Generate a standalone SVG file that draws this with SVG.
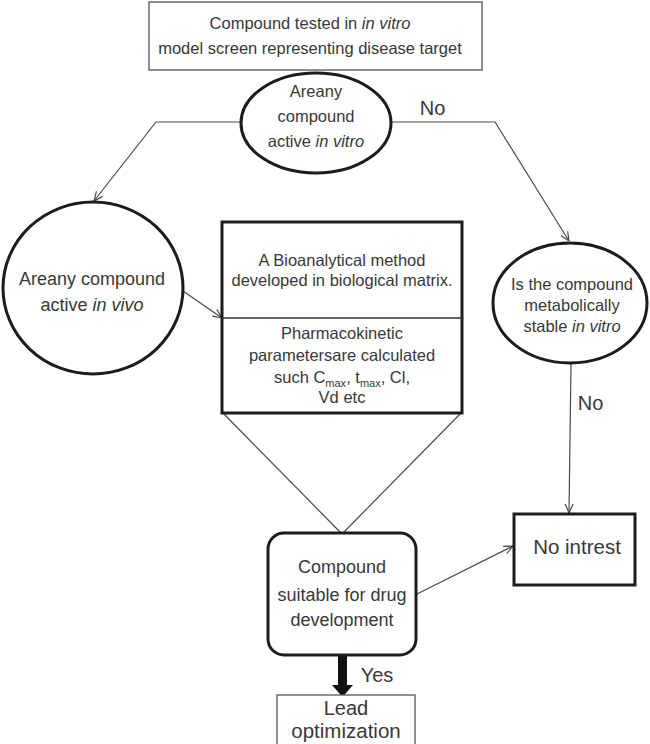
<svg xmlns="http://www.w3.org/2000/svg" width="650" height="744" viewBox="0 0 650 744">
<defs>
<style>
text{font-family:"Liberation Sans",Arial,sans-serif;fill:#383838;text-anchor:middle}
.thin{fill:#fff;stroke:#555;stroke-width:1.3}
.thick{fill:#fff;stroke:#1c1c1c;stroke-width:3}
.conn{fill:none;stroke:#4a4a4a;stroke-width:1.2}
.it{font-style:italic}
</style>
<marker id="arr" viewBox="0 0 10 10" refX="10" refY="5" markerWidth="10" markerHeight="10" markerUnits="userSpaceOnUse" orient="auto">
<path d="M1,1 L10,5 L1,9" fill="none" stroke="#4a4a4a" stroke-width="1.2"/>
</marker>
</defs>
<rect width="650" height="744" fill="#fff"/>

<g id="connectors">
<polyline class="conn" points="242,122 156,122 94,201" marker-end="url(#arr)"/>
<polyline class="conn" points="392,122 495,122 569,241" marker-end="url(#arr)"/>
<line class="conn" x1="183" y1="291" x2="222" y2="318" marker-end="url(#arr)"/>
<line class="conn" x1="223" y1="413" x2="341" y2="533"/>
<line class="conn" x1="461" y1="413" x2="343" y2="533"/>
<line class="conn" x1="571" y1="364" x2="569" y2="513" marker-end="url(#arr)"/>
<line class="conn" x1="417" y1="594" x2="513" y2="546" marker-end="url(#arr)"/>
<path d="M338,656 H347 V685 H353 L342.5,697 L332,685 H338 Z" fill="#111"/>
<text x="432.5" y="115" font-size="20">No</text>
<text x="590.5" y="410" font-size="20">No</text>
<text x="377" y="682" font-size="20">Yes</text>
</g>

<g id="n-top">
<rect class="thin" x="149" y="2" width="333" height="68"/>
<text x="310" y="29" font-size="16.5">Compound tested in <tspan class="it">in vitro</tspan></text>
<text x="310" y="54" font-size="16.5">model screen representing disease target</text>
</g>

<g id="n-active-vitro">
<ellipse class="thick" cx="316" cy="123" rx="75" ry="50"/>
<text x="316" y="97" font-size="16.5">Areany</text>
<text x="316" y="122" font-size="16.5">compound</text>
<text x="316" y="147" font-size="16.5">active <tspan class="it">in vitro</tspan></text>
</g>

<g id="n-active-vivo">
<ellipse class="thick" cx="93" cy="288" rx="90" ry="86"/>
<text x="92" y="285" font-size="18">Areany compound</text>
<text x="92" y="311" font-size="18">active <tspan class="it">in vivo</tspan></text>
</g>

<g id="n-bioanalytical">
<rect class="thick" x="222" y="222" width="240" height="191"/>
<line x1="222" y1="318" x2="462" y2="318" stroke="#333" stroke-width="1.5"/>
<text x="342" y="266" font-size="16.5">A Bioanalytical method</text>
<text x="342" y="286" font-size="16.5">developed in biological matrix.</text>
<text x="342" y="339" font-size="16.5">Pharmacokinetic</text>
<text x="342" y="361" font-size="16.5">parametersare calculated</text>
<text x="342" y="383" font-size="16.5">such C<tspan font-size="11" dy="4">max</tspan><tspan dy="-4">, t</tspan><tspan font-size="11" dy="4">max</tspan><tspan dy="-4">, Cl,</tspan></text>
<text x="342" y="403" font-size="16.5">Vd etc</text>
</g>

<g id="n-stable">
<ellipse class="thick" cx="570" cy="303" rx="77" ry="60"/>
<text x="572" y="290" font-size="16.5">Is the compound</text>
<text x="572" y="311" font-size="16.5">metabolically</text>
<text x="572" y="332" font-size="16.5">stable <tspan class="it">in vitro</tspan></text>
</g>

<g id="n-suitable">
<rect class="thick" x="268" y="533" width="148" height="122" rx="16"/>
<text x="342" y="573" font-size="18">Compound</text>
<text x="342" y="601" font-size="18">suitable for drug</text>
<text x="342" y="626" font-size="18">development</text>
</g>

<g id="n-nointerest">
<rect class="thick" x="514" y="514" width="121" height="71"/>
<text x="577" y="554" font-size="20.5">No intrest</text>
</g>

<g id="n-lead">
<rect class="thin" x="277" y="695" width="138" height="52"/>
<text x="346" y="715" font-size="20">Lead</text>
<text x="346" y="738" font-size="20.5">optimization</text>
</g>
</svg>
